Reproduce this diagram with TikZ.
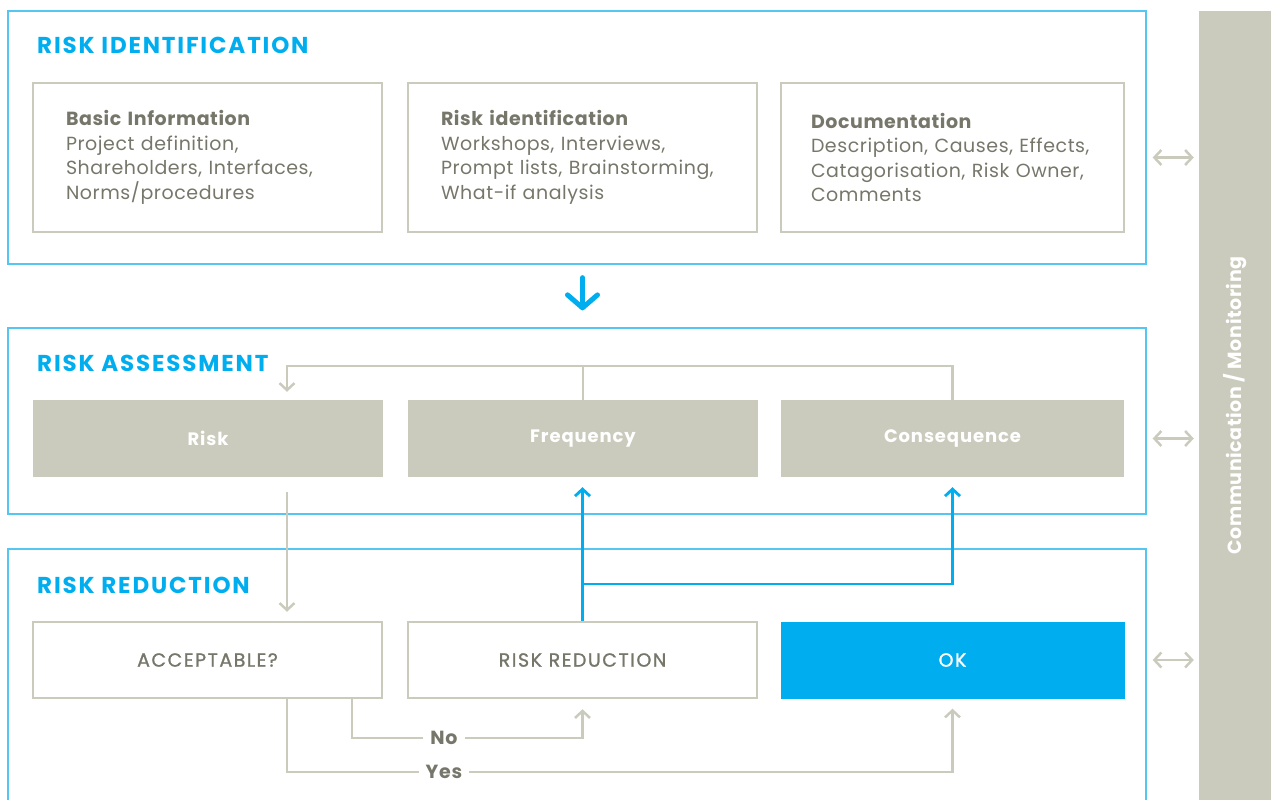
\documentclass[tikz,border=0pt]{standalone}
\usepackage{fontspec}
\setmainfont{Poppins}
\usetikzlibrary{arrows.meta,positioning}
\definecolor{riskblue}{HTML}{00AEEF}
\definecolor{frameblue}{HTML}{55C6F2}
\definecolor{riskgray}{HTML}{CBCBBD}
\definecolor{risktext}{HTML}{76766A}

\tikzset{
  section/.style={draw=frameblue, line width=1.3pt, minimum width=1138pt},
  sectitle/.style={anchor=base west, inner sep=0pt, text=riskblue,
    font=\fontsize{23}{26}\selectfont\bfseries\addfontfeatures{LetterSpace=8}},
  idbox/.style={draw=riskgray, line width=2.5pt, minimum height=149pt, text width=283pt,
    align=left, text=risktext, font=\fontsize{19}{24.5}\selectfont\addfontfeatures{LetterSpace=3}},
  fillbox/.style={fill=riskgray, minimum height=77pt, text=white,
    font=\fontsize{18}{20}\selectfont\bfseries\addfontfeatures{LetterSpace=5}},
  stepbox/.style={draw=riskgray, line width=2.5pt, minimum height=76pt, text=risktext,
    font=\fontsize{19}{20}\selectfont\addfontfeatures{LetterSpace=8,FakeBold=1.2}},
  okbox/.style={fill=riskblue, minimum height=77pt, text=white,
    font=\fontsize{19}{20}\selectfont\addfontfeatures{LetterSpace=8,FakeBold=1.2}},
  grayline/.style={draw=riskgray, line width=2.5pt},
  grayarrow/.style={grayline, -{Straight Barb[length=7pt, width=15pt]}},
  bluearrow/.style={draw=riskblue, line width=2.8pt, -{Straight Barb[length=7pt, width=15pt]}},
  bigarrow/.style={draw=riskblue, line width=5pt, line cap=round, -{Straight Barb[length=13pt, width=30pt, round]}},
  dblarrow/.style={grayline, {Straight Barb[length=7pt, width=15pt]}-{Straight Barb[length=7pt, width=15pt]}},
  answer/.style={fill=white, inner xsep=7pt, inner ysep=2pt, text=risktext,
    font=\fontsize{19}{20}\selectfont\bfseries\addfontfeatures{LetterSpace=4}},
}

\begin{document}
\begin{tikzpicture}[x=1pt, y=-1pt]
    \useasboundingbox (0,0) rectangle (1271,800);

    % Sections
    \node (idsec) [section, minimum height=253pt] at (577,137.5) {};
    \node (assec) [section, minimum height=186pt] at (577,421) {};
    \node (resec) [section, minimum height=270pt] at (577,684) {};
    \node [sectitle] at (37,54) {RISK IDENTIFICATION};
    \node [sectitle] at (37,371) {RISK ASSESSMENT};
    \node [sectitle] at (37,593) {RISK REDUCTION};

    % Risk identification boxes
    \node (bi) [idbox, minimum width=349pt] at (207.5,157.5)
        {\textbf{Basic Information}\\Project definition,\\Shareholders, Interfaces,\\Norms/procedures};
    \node (ri) [idbox, minimum width=349pt] at (582.5,157.5)
        {\textbf{Risk identification}\\Workshops, Interviews,\\Prompt lists, Brainstorming,\\What-if analysis};
    \node (doc) [idbox, minimum width=343pt] at (952.5,157.5)
        {\textbf{Documentation}\\Description, Causes, Effects,\\Catagorisation, Risk Owner,\\Comments};

    % Risk assessment boxes
    \node (risk) [fillbox, minimum width=350pt] at (208,438.5) {Risk};
    \node (freq) [fillbox, minimum width=350pt] at (583,438.5) {Frequency};
    \node (cons) [fillbox, minimum width=343pt] at (952.5,438.5) {Consequence};

    % Risk reduction boxes
    \node (acc) [stepbox, minimum width=349pt] at (207.5,660) {ACCEPTABLE?};
    \node (red) [stepbox, minimum width=349pt] at (582.5,660) {RISK REDUCTION};
    \node (ok) [okbox, minimum width=344pt] at (952.5,660) {OK};

    % Communication bar
    \node (comm) [fill=riskgray, rotate=90, minimum width=789pt, minimum height=72pt,
        text=white, font=\fontsize{19}{20}\selectfont\bfseries\addfontfeatures{LetterSpace=3}] at (1235,405.5)
        {Communication / Monitoring};

    % Flow between sections
    \draw [bigarrow, shorten <=13pt, shorten >=17pt] (ri.south |- idsec.south) -- (ri.south |- assec.north);

    % Assessment loop
    \coordinate (top) at (0,366);
    \coordinate (riskin) at ([xshift=79pt]risk.north);
    \draw [grayarrow, shorten >=8pt] (cons.north) -- (cons.north |- top) -| (riskin);
    \draw [grayline] (freq.north) -- (freq.north |- top);
    \draw [grayarrow, shorten <=15pt, shorten >=9pt] (riskin |- risk.south) -- (riskin |- acc.north);

    % Reduction feeds back
    \coordinate (branch) at (582.5,584);
    \draw [bluearrow, shorten >=10pt] (red.north) -- (freq.south -| red.north);
    \draw [bluearrow, shorten >=10pt] (branch) -| (cons.south);

    % Decision
    \node (no) [answer] at (444,738) {No};
    \node (yes) [answer] at (444,772) {Yes};
    \draw [grayline] ([xshift=144.5pt]acc.south) |- (no.west);
    \draw [grayarrow, shorten >=10pt] (no.east) -| (red.south);
    \draw [grayline] ([xshift=79.5pt]acc.south) |- (yes.west);
    \draw [grayarrow, shorten >=10pt] (yes.east) -| (ok.south);

    % Communication arrows
    \foreach \row in {doc, cons, ok} {
        \draw [dblarrow, shorten <=6pt, shorten >=5pt] (idsec.east |- \row) -- (comm.north |- \row);
    }
\end{tikzpicture}
\end{document}
